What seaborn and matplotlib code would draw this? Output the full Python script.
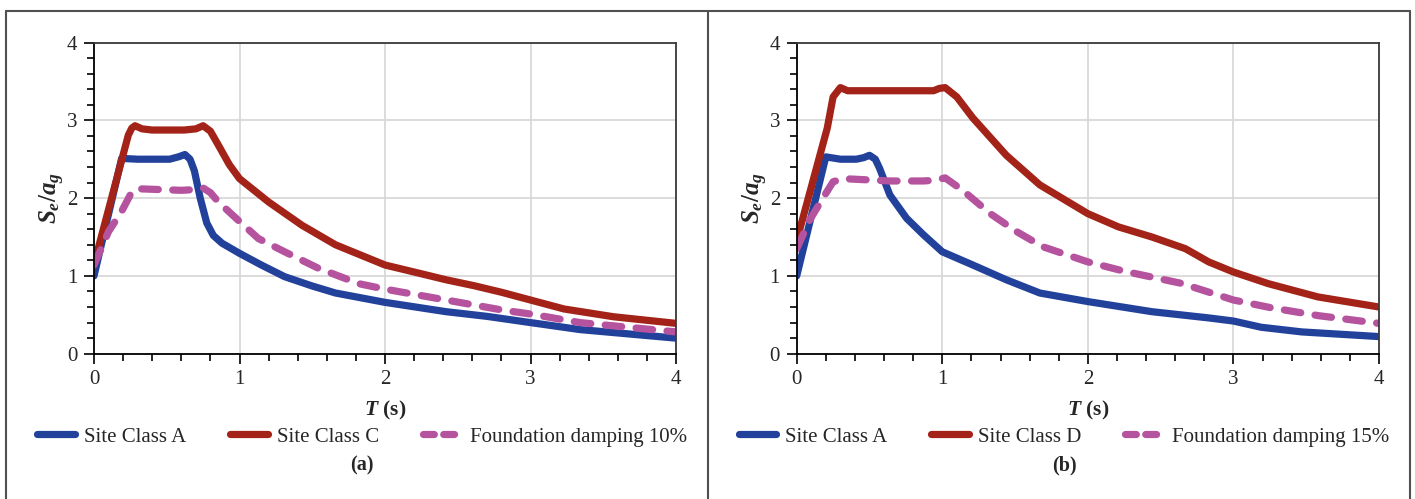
import numpy as np
import pandas as pd
import matplotlib
matplotlib.use("Agg")
import matplotlib.pyplot as plt
from matplotlib.lines import Line2D
import seaborn as sns

# ---------------- data ----------------
# Panel (a)
a_A_T = [0, 0.19, 0.3, 0.52, 0.58, 0.625, 0.66, 0.69, 0.73, 0.775, 0.82, 0.88, 1.0, 1.15,
         1.31, 1.5, 1.66, 2.0, 2.42, 2.7, 3.0, 3.34, 3.7, 4.0]
a_A_v = [1.0, 2.51, 2.5, 2.5, 2.53, 2.56, 2.5, 2.35, 2.0, 1.68, 1.52, 1.42, 1.29, 1.14,
         0.99, 0.87, 0.78, 0.66, 0.54, 0.48, 0.40, 0.31, 0.25, 0.20]

a_C_T = [0, 0.236, 0.26, 0.282, 0.33, 0.4, 0.62, 0.7, 0.75, 0.8, 0.855, 0.93, 1.0, 1.2,
         1.43, 1.66, 2.0, 2.2, 2.42, 2.61, 2.8, 3.0, 3.23, 3.57, 4.0]
a_C_v = [1.15, 2.81, 2.9, 2.93, 2.89, 2.875, 2.875, 2.89, 2.93, 2.86, 2.68, 2.43, 2.25, 1.95,
         1.65, 1.40, 1.14, 1.05, 0.95, 0.875, 0.79, 0.69, 0.575, 0.475, 0.39]

a_F_T = [0, 0.1, 0.19, 0.26, 0.3, 0.6, 0.7, 0.75, 0.8, 0.855, 1.0, 1.13, 1.31, 1.54,
         1.82, 2.0, 2.42, 2.81, 3.0, 3.34, 4.0]
a_F_v = [1.14, 1.57, 1.83, 2.08, 2.12, 2.10, 2.11, 2.13, 2.07, 1.95, 1.70, 1.48, 1.31, 1.10,
         0.90, 0.83, 0.69, 0.56, 0.51, 0.40, 0.28]

# Panel (b)
b_A_T = [0, 0.2, 0.3, 0.41, 0.46, 0.50, 0.54, 0.57, 0.64, 0.755, 0.87, 1.0, 1.21, 1.44,
         1.67, 2.0, 2.44, 2.83, 3.0, 3.19, 3.47, 4.0]
b_A_v = [1.0, 2.53, 2.5, 2.5, 2.52, 2.55, 2.5, 2.38, 2.04, 1.74, 1.53, 1.31, 1.14, 0.95,
         0.78, 0.67, 0.54, 0.46, 0.42, 0.34, 0.28, 0.22]

b_D_T = [0, 0.21, 0.25, 0.30, 0.35, 0.41, 0.94, 0.98, 1.02, 1.10, 1.21, 1.44, 1.67, 2.0,
         2.21, 2.44, 2.67, 2.83, 3.0, 3.24, 3.58, 4.0]
b_D_v = [1.45, 2.90, 3.30, 3.42, 3.38, 3.38, 3.38, 3.41, 3.42, 3.30, 3.03, 2.55, 2.17, 1.80,
         1.63, 1.50, 1.35, 1.18, 1.05, 0.90, 0.73, 0.60]

b_F_T = [0, 0.09, 0.18, 0.25, 0.32, 0.64, 0.87, 0.95, 1.02, 1.14, 1.33, 1.51, 1.69, 2.0,
         2.25, 2.64, 2.85, 3.0, 3.26, 3.58, 4.0]
b_F_v = [1.35, 1.72, 2.0, 2.21, 2.25, 2.22, 2.22, 2.23, 2.26, 2.10, 1.80, 1.57, 1.375, 1.18,
         1.06, 0.905, 0.78, 0.69, 0.59, 0.49, 0.39]

labels_a = ["Site Class A", "Site Class C", "Foundation damping 10%"]
labels_b = ["Site Class A", "Site Class D", "Foundation damping 15%"]
captions = ["(a)", "(b)"]
x_ticks = [0, 1, 2, 3, 4]
y_ticks = [0, 1, 2, 3, 4]

# ---------------- style ----------------
sns.set_theme(style="white")
plt.rcParams["font.family"] = ["Liberation Serif", "DejaVu Serif"]
plt.rcParams["mathtext.fontset"] = "custom"
plt.rcParams["mathtext.it"] = "Liberation Serif:italic:bold"
plt.rcParams["mathtext.rm"] = "Liberation Serif:bold"
plt.rcParams["mathtext.bf"] = "Liberation Serif:bold"

BLUE = "#22419b"
RED = "#a32318"
MAG = "#b6539f"
LW = 5.2
DASH = (2.3, 2.0)

fig = plt.figure(figsize=(14.15, 4.99), dpi=100)

ax_a = fig.add_axes([94 / 1415, 1 - 353.7 / 499, 582 / 1415, 311.2 / 499])
ax_b = fig.add_axes([796.7 / 1415, 1 - 353.7 / 499, 582.3 / 1415, 311.2 / 499])

panels = [
    (ax_a, [(a_A_T, a_A_v, BLUE, False), (a_C_T, a_C_v, RED, False), (a_F_T, a_F_v, MAG, True)], labels_a),
    (ax_b, [(b_A_T, b_A_v, BLUE, False), (b_D_T, b_D_v, RED, False), (b_F_T, b_F_v, MAG, True)], labels_b),
]

legend_centers = [362 / 1415, 1064 / 1415]

for i, (ax, series, labels) in enumerate(panels):
    handles = []
    for (T, v, col, dashed), lab in zip(series, labels):
        df = pd.DataFrame({"T": T, "v": v})
        sns.lineplot(data=df, x="T", y="v", ax=ax, color=col, lw=LW, sort=False,
                     estimator=None, solid_capstyle="round", solid_joinstyle="round")
        ln = ax.get_lines()[-1]
        if dashed:
            ln.set_dashes(DASH)
            ln.set_dash_capstyle("round")
            ln.set_dash_joinstyle("round")
        h = Line2D([], [], color=col, lw=LW, solid_capstyle="round",
                   dash_capstyle="round")
        if dashed:
            h.set_dashes((1.5, 1.3))
        handles.append(h)

    ax.set_xlim(0, 4)
    ax.set_ylim(0, 4)
    ax.set_xticks(x_ticks)
    ax.set_yticks(y_ticks)
    ax.set_xticks(np.arange(0, 4.01, 0.2), minor=True)
    ax.set_yticks(np.arange(0, 4.01, 0.2), minor=True)
    ax.grid(True, which="major", color="#d6d6d6", lw=1.2)
    ax.set_axisbelow(True)
    ax.tick_params(axis="both", which="major", direction="out", length=7, width=1.2,
                   color="black", labelsize=15, pad=5, left=True, bottom=True)
    ax.tick_params(axis="both", which="minor", direction="out", length=5, width=1.2,
                   color="black", left=True, bottom=True)
    for s in ["left", "bottom"]:
        ax.spines[s].set_color("black")
        ax.spines[s].set_linewidth(1.3)
    for s in ["top", "right"]:
        ax.spines[s].set_color("#3a3a3a")
        ax.spines[s].set_linewidth(1.3)
    ax.set_xlabel(r"$T$ (s)", fontsize=15.5, fontweight="bold", labelpad=7)
    ax.set_ylabel(r"$S_e/a_g$", fontsize=18)
    ax.yaxis.set_label_coords(-27 / 582, 0.5)

    fig.legend(handles=handles, labels=labels, loc="center",
               bbox_to_anchor=(legend_centers[i], 1 - 437 / 499), ncol=3,
               frameon=False, fontsize=15, handlelength=1.8, handletextpad=0.45,
               columnspacing=2.1, borderaxespad=0, borderpad=0)
    fig.text(legend_centers[i], 1 - 465 / 499, captions[i], ha="center", va="center",
             fontsize=14.5, fontweight="bold")

# outer frame
frame_col = "#505050"
fig.add_artist(Line2D([5.5 / 1415, 5.5 / 1415], [0, 1 - 10.5 / 499], color=frame_col, lw=1.5,
                      transform=fig.transFigure))
fig.add_artist(Line2D([5.5 / 1415, 1410 / 1415], [1 - 10.5 / 499, 1 - 10.5 / 499], color=frame_col,
                      lw=1.5, transform=fig.transFigure))
fig.add_artist(Line2D([1410 / 1415, 1410 / 1415], [0, 1 - 10.5 / 499], color=frame_col, lw=1.5,
                      transform=fig.transFigure))
fig.add_artist(Line2D([707.5 / 1415, 707.5 / 1415], [0, 1 - 10.5 / 499], color=frame_col, lw=1.5,
                      transform=fig.transFigure))

fig.savefig("out.png", dpi=100)
